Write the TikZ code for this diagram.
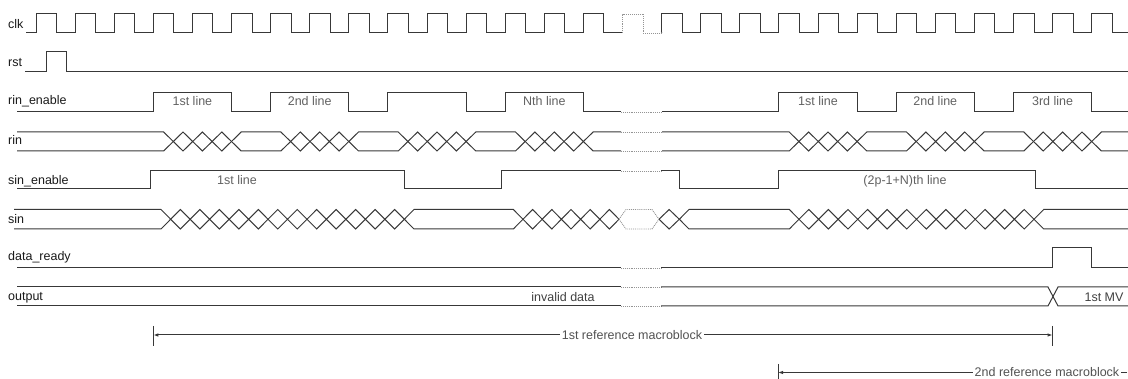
\documentclass[tikz,border=0pt]{standalone}
\usepackage{fontspec}
\setmainfont{Liberation Sans}
\usetikzlibrary{arrows.meta,calc}
\newcommand\xchain[6]{%
  \draw[#6] (#3,{(#1+#2)/2}) foreach \i in {2,...,#5} { -- ({#3+(\i-1.5)*#4},#1) -- ({#3+(\i-1)*#4},{(#1+#2)/2}) };
  \draw[#6] (#3,{(#1+#2)/2}) foreach \i in {2,...,#5} { -- ({#3+(\i-1.5)*#4},#2) -- ({#3+(\i-1)*#4},{(#1+#2)/2}) };}
\newcommand\stab[6]{%
  \draw[#6] (#3,{(#1+#2)/2}) -- ({#3+#5},#1) -- ({#4-#5},#1) -- (#4,{(#1+#2)/2});
  \draw[#6] (#3,{(#1+#2)/2}) -- ({#3+#5},#2) -- ({#4-#5},#2) -- (#4,{(#1+#2)/2});}
\begin{document}
\begin{tikzpicture}[x=1pt,y=-1pt,
  sig/.style={draw=black!78, line width=1pt},
  brk/.style={draw=black!42, line width=0.9pt, densely dotted},
  signame/.style={anchor=base west, inner sep=0pt, text=black!90, font=\fontsize{12.5}{15}\selectfont},
  inlab/.style={anchor=base, inner sep=0pt, text=black!62, font=\fontsize{12.5}{15}\selectfont},
  dimlab/.style={anchor=base, inner xsep=1.5pt, inner ysep=0pt, fill=white, text=black!68, font=\fontsize{12.5}{15}\selectfont},
  dim/.style={draw=black!78, line width=1pt},
  tip/.style={arrows={-Latex[length=5pt,width=3.5pt]}}
]
\useasboundingbox (0,0) rectangle (1128,379);
\clip (0,0) rectangle (1128,379);

% ---- signal names
\node[signame] (nclk) at (8,28.3) {clk};
\node[signame] (nrst) at (8,67) {rst};
\node[signame] (nrinen) at (8,105) {rin\_enable};
\node[signame] (nrin) at (8,145) {rin};
\node[signame] (nsinen) at (8,185) {sin\_enable};
\node[signame] (nsin) at (8,223.5) {sin};
\node[signame] (ndr) at (8,261) {data\_ready};
\node[signame] (nout) at (8,301) {output};

% ---- clk
\draw[sig] (26,33) foreach \k in {0,...,14} { -- ({36+39.1*\k},33) -- ({36+39.1*\k},14) -- ({56.5+39.1*\k},14) -- ({56.5+39.1*\k},33) } -- (622.5,33);
\draw[brk] (622.5,33) -- (622.5,14) -- (643,14) -- (643,33) -- (661.6,33);
\draw[sig] (661.6,33) foreach \k in {16,...,27} { -- ({36+39.1*\k},33) -- ({36+39.1*\k},14) -- ({56.5+39.1*\k},14) -- ({56.5+39.1*\k},33) } -- (1128,33);

% ---- rst
\draw[sig] (25,72) -- (46,72) -- (46,52) -- (66,52) -- (66,72) -- (1128,72);

% ---- rin_enable
\draw[sig] (17,112) foreach \k in {3,6,9,12} { -- ({36+39.1*\k},112) -- ({36+39.1*\k},93) -- ({36+39.1*(\k+2)},93) -- ({36+39.1*(\k+2)},112) } -- (621,112);
\draw[brk] (621,112) -- (662,112);
\draw[sig] (662,112) foreach \k in {19,22,25} { -- ({36+39.1*\k},112) -- ({36+39.1*\k},93) -- ({36+39.1*(\k+2)},93) -- ({36+39.1*(\k+2)},112) } -- (1128,112);
\node[inlab] (re1) at (192.4,106) {1st line};
\node[inlab] (re2) at (309.7,106) {2nd line};
\node[inlab] (reN) at (544.3,106) {Nth line};
\node[inlab] (re4) at (818,106) {1st line};
\node[inlab] (re5) at (935.3,106) {2nd line};
\node[inlab] (re6) at (1052.6,106) {3rd line};

% ---- rin
\draw[sig] (17,132) -- (163.6,132) -- (173.3,141.5);
\draw[sig] (17,151) -- (163.6,151) -- (173.3,141.5);
\foreach \k in {3,6,9,12,19,22,25} { \xchain{132}{151}{56+39.1*\k}{19.4}{4}{sig} }
\stab{132}{151}{231.5}{290.6}{9.7}{sig}
\stab{132}{151}{348.8}{407.9}{9.7}{sig}
\stab{132}{151}{466.1}{525.2}{9.7}{sig}
\draw[sig] (583.4,141.5) -- (593.1,132) -- (621,132);
\draw[sig] (583.4,141.5) -- (593.1,151) -- (621,151);
\draw[brk] (621,132) -- (662,132) (621,151) -- (662,151);
\draw[sig] (662,132) -- (789.2,132) -- (798.9,141.5);
\draw[sig] (662,151) -- (789.2,151) -- (798.9,141.5);
\stab{132}{151}{857.1}{916.2}{9.7}{sig}
\stab{132}{151}{974.4}{1033.5}{9.7}{sig}
\draw[sig] (1091.7,141.5) -- (1101.4,132) -- (1128,132);
\draw[sig] (1091.7,141.5) -- (1101.4,151) -- (1128,151);

% ---- sin_enable
\draw[sig] (17,189) -- (150.7,189) -- (150.7,171) -- (404.3,171) -- (404.3,189) -- (501.7,189) -- (501.7,171) -- (621,171);
\draw[brk] (621,171) -- (661,171);
\draw[sig] (661,171) -- (679.3,171) -- (679.3,189) -- (778,189) -- (778,171) -- (1035.3,171) -- (1035.3,189) -- (1128,189);
\node[inlab] (se1) at (237,185) {1st line};
\node[inlab] (se2) at (905,185) {(2p-1+N)th line};

% ---- sin
\draw[sig] (14,209.5) -- (161,209.5) -- (170.7,219.25);
\draw[sig] (14,229) -- (161,229) -- (170.7,219.25);
\xchain{209.5}{229}{170.7}{19.467}{13}{sig}
\stab{209.5}{229}{404.3}{523}{9.7}{sig}
\xchain{209.5}{229}{523}{19.2}{6}{sig}
\stab{209.5}{229}{619}{659}{7}{brk}
\xchain{209.5}{229}{659}{20.3}{2}{sig}
\stab{209.5}{229}{679.3}{799}{9.7}{sig}
\xchain{209.5}{229}{799}{19.583}{13}{sig}
\draw[sig] (1034,219.25) -- (1043.7,209.5) -- (1128,209.5);
\draw[sig] (1034,219.25) -- (1043.7,229) -- (1128,229);

% ---- data_ready
\draw[sig] (17,268) -- (621,268);
\draw[brk] (621,268) -- (661,268);
\draw[sig] (661,268) -- (1052.6,268) -- (1052.6,248) -- (1091.7,248) -- (1091.7,268) -- (1128,268);

% ---- output
\draw[sig] (17,287) -- (621,287) (17,306) -- (621,306);
\draw[brk] (621,287) -- (661,287) (621,306) -- (661,306);
\draw[sig] (661,287) -- (1048,287) -- (1058,306) -- (1128,306);
\draw[sig] (661,306) -- (1048,306) -- (1058,287) -- (1128,287);
\node[inlab, text=black!75] (inv) at (563,301.5) {invalid data};
\node[inlab, text=black!75] (mv) at (1104,301.5) {1st MV};

% ---- macroblock spans
\coordinate (a1) at (153.3,335);
\coordinate (b1) at (1052.6,335);
\coordinate (m1) at (632,335);
\draw[dim] (153.3,326) -- (153.3,346);
\draw[dim] (1052.6,326) -- (1052.6,346);
\draw[dim, tip] (m1) -- (a1);
\draw[dim, tip] (m1) -- (b1);
\node[dimlab] (mb1) at (632,339.5) {1st reference macroblock};

\coordinate (a2) at (778,372.5);
\coordinate (b2) at (1127,372.5);
\draw[dim] (778,364) -- (778,385);
\draw[dim, tip] (b2) -- (a2);
\node[dimlab] (mb2) at (1047,377) {2nd reference macroblock};
\end{tikzpicture}
\end{document}
